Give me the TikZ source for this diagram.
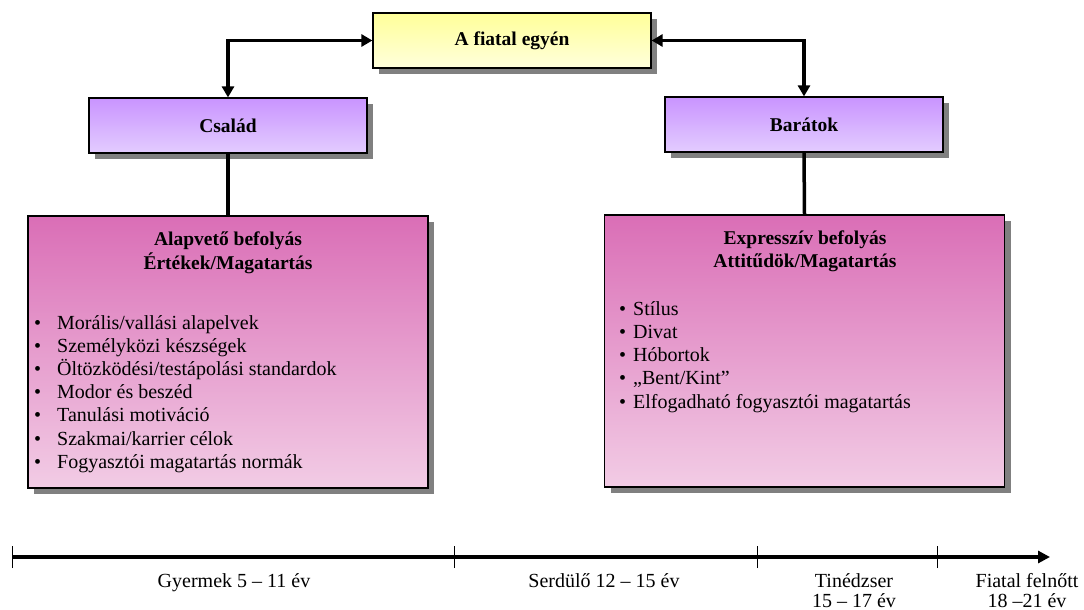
\documentclass[tikz,border=0pt]{standalone}
\usepackage{fontspec}
\setmainfont{Liberation Serif}
\usetikzlibrary{arrows.meta,shadows}
\definecolor{yelTop}{HTML}{FFFF99}
\definecolor{yelBot}{HTML}{FFFFDC}
\definecolor{purTop}{HTML}{C994FF}
\definecolor{purBot}{HTML}{E3CCFF}
\definecolor{pinkTop}{HTML}{DA6EB6}
\definecolor{pinkBot}{HTML}{F2CCE5}
\definecolor{shadowgray}{HTML}{808080}
\begin{document}
\begin{tikzpicture}[x=1pt,y=-1pt,
  txt/.style={font=\fontsize{20}{23}\selectfont, inner sep=0pt},
  boxbase/.style={draw=black, line width=1.2pt, inner sep=0pt,
    drop shadow={shadow xshift=6pt, shadow yshift=-6pt, fill=shadowgray, opacity=1}},
  agebox/.style={boxbase, minimum width=278pt, minimum height=55pt,
    font=\fontsize{19.5}{23}\selectfont\bfseries},
  yellowbox/.style={agebox, top color=yelTop, bottom color=yelBot},
  purplebox/.style={agebox, top color=purTop, bottom color=purBot},
  pinkbox/.style={boxbase, minimum width=400pt, minimum height=272pt,
    top color=pinkTop, bottom color=pinkBot},
  head/.style={txt, font=\fontsize{19.5}{23}\selectfont\bfseries, anchor=base},
  item/.style={txt, anchor=base west},
  link/.style={line width=3.5pt, {Triangle[length=11pt,width=12pt]}-{Triangle[length=11pt,width=12pt]}},
  stem/.style={line width=3.5pt},
  axis/.style={line width=4pt, -{Triangle[length=12pt,width=12pt]}},
  tick/.style={line width=1pt},
  agelabel/.style={txt, anchor=base}
]
\useasboundingbox (0,0) rectangle (1084,610);

% influence boxes
\node[yellowbox] (self) at (512,40.5) {A fiatal egyén};
\node[purplebox] (family) at (228,125.5) {Család};
\node[purplebox] (friends) at (804,124.5) {Barátok};
\node[pinkbox] (basic) at (228,352) {};
\node[pinkbox] (expr) at (804.5,351) {};

% connectors
\draw[link] (self.west) -| (family.north);
\draw[link] (self.east) -| (friends.north);
\draw[stem] (family.south) -- (basic.north);
\draw[stem] (friends.south) -- (expr.north);

% family influence
\node[head] (bh1) at (228,245) {Alapvető befolyás};
\node[head] (bh2) at (228,269) {Értékek/Magatartás};
\foreach \t [count=\i from 0] in {Morális/vallási alapelvek, Személyközi készségek,
  Öltözködési/testápolási standardok, Modor és beszéd, Tanulási motiváció,
  Szakmai/karrier célok, Fogyasztói magatartás normák}
  \node[item] (bl\i) at (34,329+23.2*\i) {\makebox[23pt][l]{\textbullet}\t};

% peer influence
\node[head] (eh1) at (805,244) {Expresszív befolyás};
\node[head] (eh2) at (805,267) {Attitűdök/Magatartás};
\foreach \t [count=\i from 0] in {Stílus, Divat, Hóbortok, „Bent/Kint”,
  Elfogadható fogyasztói magatartás}
  \node[item] (el\i) at (619,315+23.3*\i) {\makebox[14pt][l]{\textbullet}\t};

% age axis
\coordinate (t0) at (12,557);
\coordinate (t1) at (454,557);
\coordinate (t2) at (757,557);
\coordinate (t3) at (937,557);
\coordinate (tend) at (1050,557);
\draw[axis] (t0) -- (tend);
\foreach \c in {t0,t1,t2,t3}
  \draw[tick] ([yshift=-11pt]\c) -- ([yshift=11pt]\c);

\node[agelabel] (a1) at (234,587) {Gyermek 5 – 11 év};
\node[agelabel] (a2) at (604,587) {Serdülő 12 – 15 év};
\node[agelabel] (a3) at (854,587) {Tinédzser};
\node[agelabel] (a3b) at (854,607) {15 – 17 év};
\node[agelabel] (a4) at (1027,587) {Fiatal felnőtt};
\node[agelabel] (a4b) at (1027,607) {18 –21 év};
\end{tikzpicture}
\end{document}
